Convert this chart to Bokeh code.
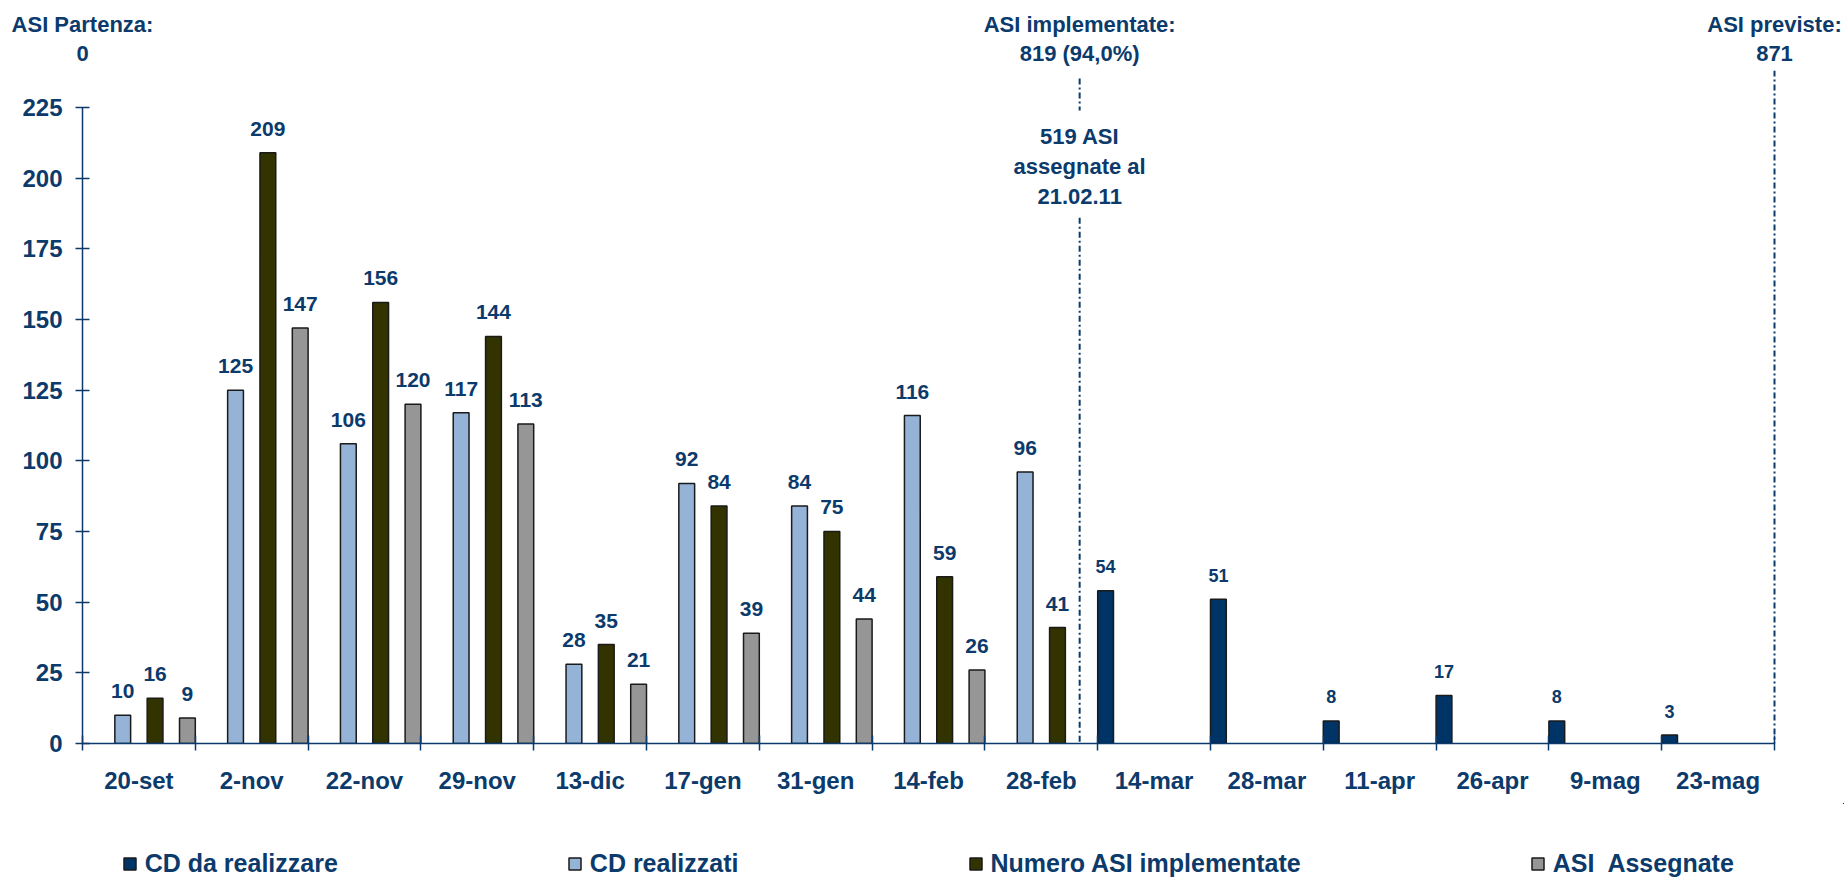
from bokeh.plotting import figure
from bokeh.layouts import column
from bokeh.models import (ColumnDataSource, Range1d, LinearAxis, FixedTicker,
                          Legend, LegendItem, Label)
from bokeh.transform import dodge
from bokeh.core.properties import value
from bokeh.embed import file_html
from bokeh.resources import INLINE

# ---------------- data ----------------
categories = ["20-set", "2-nov", "22-nov", "29-nov", "13-dic", "17-gen", "31-gen",
              "14-feb", "28-feb", "14-mar", "28-mar", "11-apr", "26-apr", "9-mag", "23-mag"]
cd_da_realizzare = [None, None, None, None, None, None, None, None, None, 54, 51, 8, 17, 8, 3]
cd_realizzati = [10, 125, 106, 117, 28, 92, 84, 116, 96, None, None, None, None, None, None]
asi_implementate = [16, 209, 156, 144, 35, 84, 75, 59, 41, None, None, None, None, None, None]
asi_assegnate = [9, 147, 120, 113, 21, 39, 44, 26, None, None, None, None, None, None, None]
y_ticks = [0, 25, 50, 75, 100, 125, 150, 175, 200, 225]
series_names = ["CD da realizzare", "CD realizzati", "Numero ASI implementate", "ASI  Assegnate"]

# milestones (position on the category axis) and their captions
milestone_x = [0, 8.84, 15]
milestone_titles = ["ASI Partenza:", "ASI implementate:", "ASI previste:"]
milestone_values = ["0", "819 (94,0%)", "871"]
note_lines = ["519 ASI", "assegnate al", "21.02.11"]

# ---------------- style ----------------
NAVY = "#0b3a6b"
FONT = "Liberation Sans"
colors = ["#003366", "#95b3d7", "#333300", "#969696"]
offsets = [-0.43, -0.1433, 0.1433, 0.43]
BAR_W = 0.14

W = 1844
H_MAIN, H_LEG = 803, 75
LEFT, TOP, BOTTOM = 82, 70, 60
PX_PER_CAT = 112.8
PX_PER_UNIT = 2.827
frame_w = W - LEFT
frame_h = H_MAIN - TOP - BOTTOM

p = figure(width=W, height=H_MAIN,
           x_range=Range1d(0, frame_w / PX_PER_CAT), y_range=Range1d(0, frame_h / PX_PER_UNIT),
           output_backend="svg", toolbar_location=None,
           x_axis_type=None, y_axis_type=None,
           min_border_left=LEFT, min_border_right=0, min_border_top=TOP, min_border_bottom=BOTTOM)
p.outline_line_color = None
p.background_fill_color = "white"


def src(vals):
    xs = [i + 0.5 for i, v in enumerate(vals) if v is not None]
    ys = [v for v in vals if v is not None]
    return ColumnDataSource(dict(x=xs, top=ys, label=[str(v) for v in ys]))


sources = []
for k, vals in enumerate([cd_da_realizzare, cd_realizzati, asi_implementate, asi_assegnate]):
    s = src(vals)
    sources.append(s)
    p.vbar(x=dodge("x", offsets[k], range=p.x_range), top="top", width=BAR_W, bottom=0,
           source=s, fill_color=colors[k], line_color="#1a1a1a", line_width=1.5)
    p.text(x=dodge("x", offsets[k], range=p.x_range), y="top", text="label", source=s,
           text_align="center", text_baseline="middle", y_offset=-24,
           text_font=value(FONT), text_font_style="bold",
           text_font_size="18px" if k == 0 else "21px", text_color=NAVY)

# ---------------- axes ----------------
xaxis = LinearAxis(ticker=FixedTicker(ticks=[i + 0.5 for i in range(len(categories))],
                                      minor_ticks=list(range(len(categories) + 1))),
                   bounds=(0, 15),
                   major_label_overrides={i + 0.5: c for i, c in enumerate(categories)})
xaxis.axis_line_color = NAVY
xaxis.axis_line_width = 1.5
xaxis.major_tick_in = 0
xaxis.major_tick_out = 0
xaxis.minor_tick_in = 8
xaxis.minor_tick_out = 7
xaxis.minor_tick_line_color = NAVY
xaxis.minor_tick_line_width = 1.5
xaxis.major_label_standoff = 16
xaxis.major_label_text_font = FONT
xaxis.major_label_text_font_style = "bold"
xaxis.major_label_text_font_size = "24px"
xaxis.major_label_text_color = NAVY
p.add_layout(xaxis, "below")

yaxis = LinearAxis(ticker=FixedTicker(ticks=y_ticks), bounds=(0, 225))
yaxis.axis_line_color = NAVY
yaxis.axis_line_width = 1.5
yaxis.major_tick_in = 7
yaxis.major_tick_out = 7
yaxis.major_tick_line_color = NAVY
yaxis.major_tick_line_width = 1.5
yaxis.minor_tick_line_color = None
yaxis.major_label_standoff = 13
yaxis.major_label_text_font = FONT
yaxis.major_label_text_font_style = "bold"
yaxis.major_label_text_font_size = "24px"
yaxis.major_label_text_color = NAVY
p.add_layout(yaxis, "left")

# milestone captions as two rows of labels on top axes
for labels, standoff in [(milestone_values, -1), (milestone_titles, -5)]:
    ax = LinearAxis(ticker=FixedTicker(ticks=milestone_x, minor_ticks=[]),
                    major_label_overrides={x: t for x, t in zip(milestone_x, labels)})
    ax.axis_line_color = None
    ax.major_tick_line_color = None
    ax.minor_tick_line_color = None
    ax.major_label_standoff = standoff
    ax.major_label_text_font = FONT
    ax.major_label_text_font_style = "bold"
    ax.major_label_text_font_size = "22px"
    ax.major_label_text_color = NAVY
    p.add_layout(ax, "above")

# milestone dash-dot lines
y_top = frame_h / PX_PER_UNIT
p.segment(x0=[milestone_x[1], milestone_x[1], milestone_x[2]],
          y0=[235.2, 186, y_top],
          x1=[milestone_x[1], milestone_x[1], milestone_x[2]],
          y1=[223.9, 0, 0],
          line_color=NAVY, line_width=2, line_dash="6 3 2 3")

for t, y in zip(note_lines, [214.7, 204, 193.5]):
    p.add_layout(Label(x=milestone_x[1], y=y, text=t, text_align="center", text_baseline="middle",
                       text_font=FONT, text_font_style="bold", text_font_size="22px",
                       text_color=NAVY))

# ---------------- legend strip ----------------
# the strip's ranges keep its copies of the bars far out of view; they only feed the legend glyphs
lf = figure(width=W, height=H_LEG, x_range=Range1d(-100, -99), y_range=Range1d(-100, -99),
            output_backend="svg", toolbar_location=None,
            x_axis_type=None, y_axis_type=None, min_border=0)
lf.outline_line_color = None
leg_renderers = [lf.vbar(x="x", top="top", width=BAR_W, bottom=0, source=s,
                         fill_color=c, line_color="#1a1a1a", line_width=1.5)
                 for s, c in zip(sources, colors)]
legend = Legend(items=[LegendItem(label=n, renderers=[r]) for n, r in zip(series_names, leg_renderers)],
                location=(39.7, 0), orientation="horizontal", spacing=229,
                border_line_color=None, background_fill_alpha=0,
                padding=0, margin=0, glyph_width=15, glyph_height=15, label_standoff=8,
                label_text_font=FONT, label_text_font_style="bold", label_text_font_size="25px",
                label_text_color=NAVY, label_height=15, label_width=0)
lf.add_layout(legend, "center")

open("out.html", "w").write(file_html(column(p, lf, spacing=0), INLINE))
